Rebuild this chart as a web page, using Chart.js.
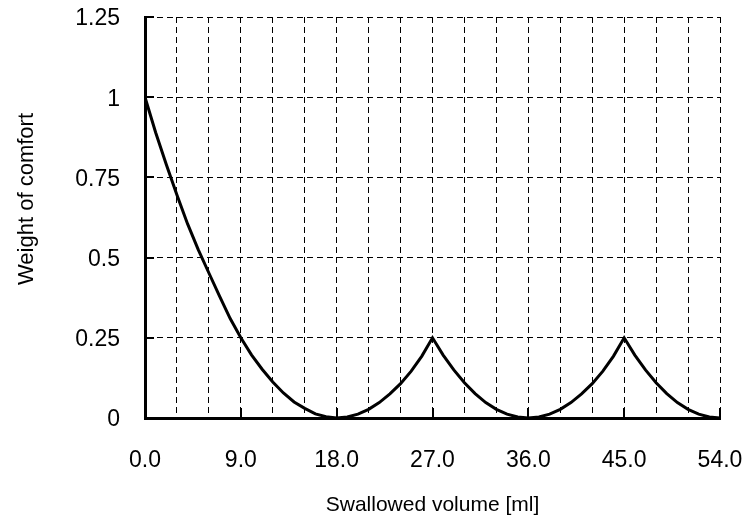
<!DOCTYPE html>
<html lang="en">
<head>
  <meta charset="UTF-8">
  <title>Weight of comfort</title>
  <script src="https://cdn.jsdelivr.net/npm/chart.js"></script>
  <style>
    body { margin: 0; background: #fff; }
    #wrap { width: 745px; height: 530px; }
  </style>
</head>
<body>
  <div id="wrap"><canvas id="myChart" width="745" height="530"></canvas></div>
  <script>
    // values
    const volume = [0, 1, 2, 3, 4, 5, 6, 7, 8, 9, 10, 11, 12, 13, 14, 15, 16, 17, 18,
      19, 20, 21, 22, 23, 24, 25, 26, 27,
      28, 29, 30, 31, 32, 33, 34, 35, 36,
      37, 38, 39, 40, 41, 42, 43, 44, 45,
      46, 47, 48, 49, 50, 51, 52, 53, 54];
    const weight = [1.00, 0.89, 0.79, 0.695, 0.605, 0.525, 0.452, 0.38, 0.31, 0.25, 0.197, 0.152, 0.112, 0.078, 0.05, 0.03, 0.013, 0.004, 0.0,
      0.003, 0.012, 0.027, 0.048, 0.075, 0.107, 0.146, 0.193, 0.25,
      0.196, 0.15, 0.11, 0.076, 0.048, 0.027, 0.012, 0.003, 0.0,
      0.003, 0.012, 0.027, 0.048, 0.075, 0.107, 0.146, 0.193, 0.25,
      0.196, 0.15, 0.11, 0.076, 0.048, 0.027, 0.012, 0.003, 0.0];
    const xMajor = [0, 9, 18, 27, 36, 45, 54];
    const yMajor = [0, 0.25, 0.5, 0.75, 1, 1.25];
    const xTitle = 'Swallowed volume [ml]';
    const yTitle = 'Weight of comfort';

    const FONT = '"Liberation Sans", Arial, sans-serif';

    // inward tick marks and axis titles
    const extras = {
      id: 'extras',
      afterDraw(chart) {
        const ctx = chart.ctx;
        const xs = chart.scales.x, ys = chart.scales.y;
        const area = chart.chartArea;
        ctx.save();
        ctx.strokeStyle = '#000';
        ctx.lineWidth = 2;
        ctx.beginPath();
        yMajor.forEach(v => {
          const py = Math.round(ys.getPixelForValue(v));
          ctx.moveTo(area.left, py);
          ctx.lineTo(area.left + 9, py);
        });
        xMajor.forEach(v => {
          const px = Math.round(xs.getPixelForValue(v));
          ctx.moveTo(px, area.bottom);
          ctx.lineTo(px, area.bottom - 10);
        });
        ctx.stroke();

        ctx.fillStyle = '#000';
        ctx.textAlign = 'center';
        ctx.textBaseline = 'alphabetic';
        ctx.font = '21px ' + FONT;
        ctx.fillText(xTitle, (area.left + area.right) / 2, 511);
        ctx.font = '22px ' + FONT;
        ctx.translate(33, 199);
        ctx.rotate(-Math.PI / 2);
        ctx.fillText(yTitle, 0, 0);
        ctx.restore();
      }
    };

    const noPad = s => { s.paddingTop = 0; s.paddingBottom = 0; s.paddingLeft = 0; s.paddingRight = 0; };

    const ctx = document.getElementById('myChart').getContext('2d');
    new Chart(ctx, {
      type: 'line',
      data: {
        datasets: [{
          data: volume.map((v, i) => ({ x: v, y: weight[i] })),
          borderColor: '#000',
          borderWidth: 3,
          pointRadius: 0,
          tension: 0,
          fill: false
        }]
      },
      options: {
        responsive: false,
        animation: false,
        layout: { padding: { left: 0, right: 25, top: 17, bottom: 0 } },
        plugins: {
          legend: { display: false },
          tooltip: { enabled: false }
        },
        scales: {
          x: {
            type: 'linear',
            min: 0,
            max: 54,
            afterFit: s => { s.height = 112; noPad(s); },
            ticks: {
              stepSize: 3,
              autoSkip: false,
              maxRotation: 0,
              padding: 29,
              color: '#000',
              font: { family: FONT, size: 23 },
              callback: v => (v % 9 === 0 ? v.toFixed(1) : '')
            },
            grid: {
              color: '#000',
              lineWidth: 1,
              drawTicks: false
            },
            border: { display: true, color: '#000', width: 3, dash: [6, 4] }
          },
          y: {
            min: 0,
            max: 1.25,
            afterFit: s => { s.width = 145; noPad(s); },
            ticks: {
              stepSize: 0.25,
              padding: 25,
              labelOffset: 2,
              color: '#000',
              font: { family: FONT, size: 23 },
              callback: v => String(v)
            },
            grid: {
              color: '#000',
              lineWidth: 1,
              drawTicks: false
            },
            border: { display: true, color: '#000', width: 3, dash: [6, 4] }
          }
        }
      },
      plugins: [extras]
    });
  </script>
</body>
</html>
